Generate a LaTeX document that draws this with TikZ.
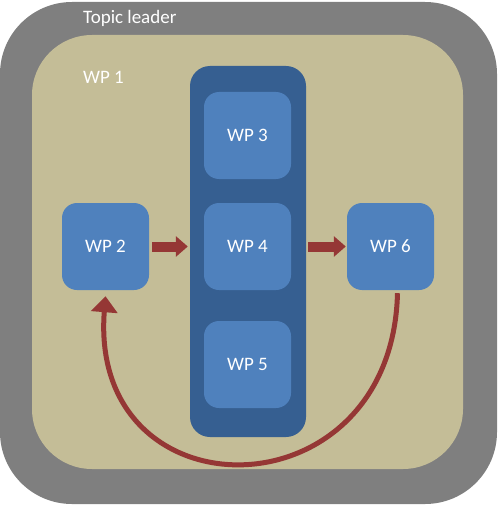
\documentclass[tikz,border=0pt]{standalone}
\usepackage{fontspec}
\setmainfont{Carlito}
\usepackage{tikz}
\usetikzlibrary{arrows.meta}
\definecolor{leadergray}{HTML}{7F7F7F}
\definecolor{wptan}{HTML}{C4BD97}
\definecolor{coldark}{HTML}{365F91}
\definecolor{wpblue}{HTML}{4F81BD}
\definecolor{flowred}{HTML}{953735}
\tikzstyle{wpbox}=[rectangle,rounded corners=15pt,fill=wpblue,minimum size=87pt,inner sep=0pt,text=white]
\tikzstyle{wplabel}=[inner sep=0pt,text=white]
\tikzstyle{flow}=[draw=flowred,line width=10pt,-{Triangle[width=20pt,length=12pt]}]
\newcommand{\wpfont}{\fontsize{19}{23}\selectfont}

\begin{document}
\begin{tikzpicture}[x=1pt,y=-1pt,font=\wpfont]
    \useasboundingbox (0,0) rectangle (499,505);
    \node[rectangle,rounded corners=72pt,fill=leadergray,minimum width=497pt,minimum height=502pt] (TL) at (248.5,253) {};
    \node[rectangle,rounded corners=60pt,fill=wptan,minimum width=431pt,minimum height=434pt] (WP1) at (247.5,252) {};
    \node[rectangle,rounded corners=20pt,fill=coldark,minimum width=116pt,minimum height=371pt] (COL) at (248,251.5) {};
    \node[wplabel,anchor=west] (TLtext) at (83,18) {Topic leader};
    \node[wplabel,anchor=west] (WP1text) at (83,77) {WP 1};
    \node[wpbox] (WP3) at (247.5,135.5) {WP 3};
    \node[wpbox] (WP4) at (247.5,246.5) {WP 4};
    \node[wpbox] (WP5) at (247.5,364.5) {WP 5};
    \node[wpbox] (WP2) at (105.5,246.5) {WP 2};
    \node[wpbox] (WP6) at (390.5,246.5) {WP 6};
	 \draw[flow,shorten <=3pt,shorten >=2pt] (WP2.east) -- (COL.west |- WP2.east);
	 \draw[flow,shorten <=2pt,shorten >=1pt] (COL.east |- WP4.east) -- (WP6.west);
	 \draw[draw=flowred,line width=5pt,-{Triangle[width=26pt,length=16pt]}]
	   ([xshift=7pt,yshift=-3pt]WP6.south) .. controls (392,519) and (88,519) .. ([yshift=-6pt]WP2.south);
\end{tikzpicture}
\end{document}
